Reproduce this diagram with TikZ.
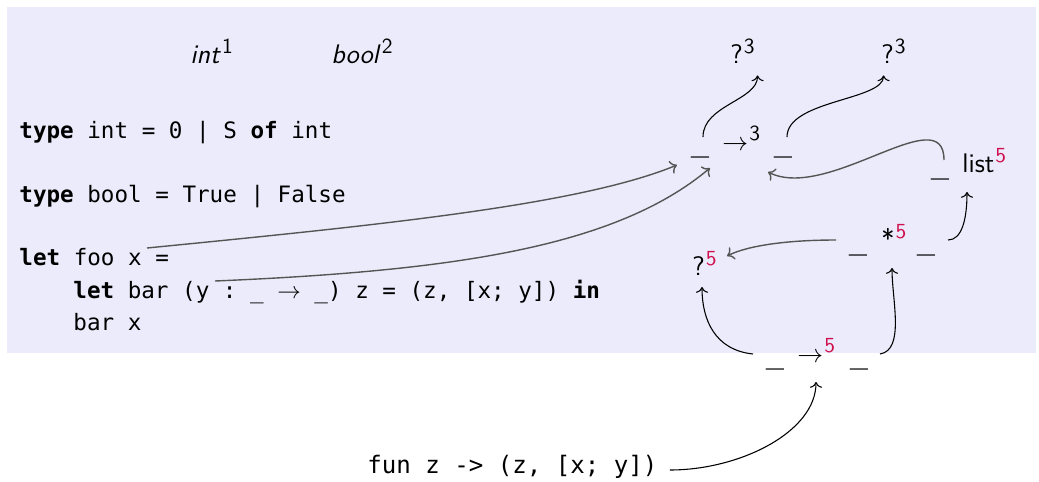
\documentclass[tikz,border=0pt]{standalone}
\usepackage{fontspec}
\setmonofont{DejaVu Sans Mono}
\usepackage{xcolor}
\usepackage{graphicx}
\usepackage{tikz}
\usetikzlibrary{arrows.meta}
\definecolor{panel}{HTML}{EBEBFB}
\definecolor{tyred}{HTML}{D0104C}
\definecolor{linkgray}{HTML}{555555}
\newcommand\lblfont{\fontsize{12.5}{14}\selectfont\sffamily}
\newcommand\codefont{\fontsize{10.5}{12}\selectfont\ttfamily}
\newcommand\tysup[1]{\hspace{0.5pt}\raisebox{4.3pt}{\fontsize{10}{10}\selectfont #1}}
\newcommand\redsup[1]{\tysup{\color{tyred}#1}}
\newcommand\hole{\raisebox{-2.6pt}{\scalebox{1.05}[0.6]{\_}}}

\begin{document}
\begin{tikzpicture}[x=0.465pt, y=-0.465pt,
    every node/.style={inner sep=0pt},
    codeline/.style={anchor=base west, font=\codefont},
    lbl/.style={anchor=base west, font=\lblfont},
    hole/.style={anchor=base, font=\lblfont},
    tylink/.style={->, draw=linkgray, line width=0.65pt},
    useedge/.style={->, draw=black, line width=0.5pt}]
    % --- panel behind the program ---
    \useasboundingbox (0,0) rectangle (1039,481);
    \fill[panel] (7,7) rectangle (1036,353);

    % --- program text ---
    \node[codeline] (tyint) at (19,138) {\textbf{type} int = 0 | S \textbf{of} int};
    \node[codeline] (tybool) at (19,202) {\textbf{type} bool = True | False};
    \node[codeline] (letfoo) at (19,265) {\textbf{let} foo x =};
    \node[codeline] (letbar) at (73,298) {\textbf{let} bar (y : \_ $\to$ \_) z = (z, [x; y]) \textbf{in}};
    \node[codeline] (barx) at (73,330) {bar x};
    \node[anchor=base west, font=\fontsize{11.2}{13}\selectfont\ttfamily] (funexpr) at (367,473) {fun z -> (z, [x; y])};
    \coordinate (xfoo) at (147,248);
    \coordinate (ybar) at (215,281);

    % --- type graph ---
    \node[lbl] (intlbl) at (190,63) {\textit{int}\tysup{1}};
    \node[lbl] (boollbl) at (331,63) {\textit{bool}\tysup{2}};
    \node[lbl] (q3d) at (730,63) {?\tysup{3}};
    \node[lbl] (q3c) at (881,63) {?\tysup{3}};
    \node[hole] (d3) at (700,150) {\hole};
    \node[lbl] (arr3) at (722,150) {$\to$\tysup{3}};
    \node[hole] (c3) at (783,150) {\hole};
    \node[hole] (lstarg) at (940,172) {\hole};
    \node[lbl] (lst) at (962,172) {list\redsup{5}};
    \node[hole] (prdl) at (858,248) {\hole};
    \node[lbl] (prd) at (881,248) {*\redsup{5}};
    \node[hole] (prdr) at (926,248) {\hole};
    \node[lbl] (q5) at (692,275) {?\redsup{5}};
    \node[hole] (d5) at (775,362) {\hole};
    \node[lbl] (arr5) at (797,362) {$\to$\redsup{5}};
    \node[hole] (c5) at (859,362) {\hole};

    % --- links ---
    \draw[tylink] (xfoo) .. controls +(233,-23) and +(-97,40) .. ([shift={(-23,15)}]d3.base);
    \draw[tylink] (ybar) .. controls +(235,-10) and +(-95,80) .. ([shift={(10,18)}]d3.base);
    \draw[useedge] ([shift={(3,-13)}]d3.base) .. controls +(0,-32) and +(0,25) .. ([shift={(15,12)}]q3d.south);
    \draw[useedge] ([shift={(4,-13)}]c3.base) .. controls +(0,-37) and +(0,25) .. ([shift={(-10,12)}]q3c.south);
    \draw[tylink] ([shift={(4,-12)}]lstarg.base) .. controls +(0,-62) and +(60,30) .. ([shift={(-15,22)}]c3.base);
    \draw[useedge] ([shift={(22,-8)}]prdr.base) .. controls +(14,0) and +(0,27) .. ([shift={(5,20)}]lst.base west);
    \draw[tylink] ([shift={(-22,-8)}]prdl.base) .. controls +(-46,0) and +(22,-11) .. ([shift={(35,-19)}]q5.base west);
    \draw[useedge] ([shift={(-22,-8)}]d5.base) .. controls +(-38,-4) and +(0,33) .. ([shift={(10,12)}]q5.base west);
    \draw[useedge] ([shift={(21,-8)}]c5.base) .. controls +(25,-4) and +(0,32) .. ([shift={(11,20)}]prd.base west);
    \draw[useedge] ([shift={(12,-3)}]funexpr.base east) .. controls +(70,0) and +(0,50) .. ([shift={(19,20)}]arr5.base west);
\end{tikzpicture}
\end{document}
